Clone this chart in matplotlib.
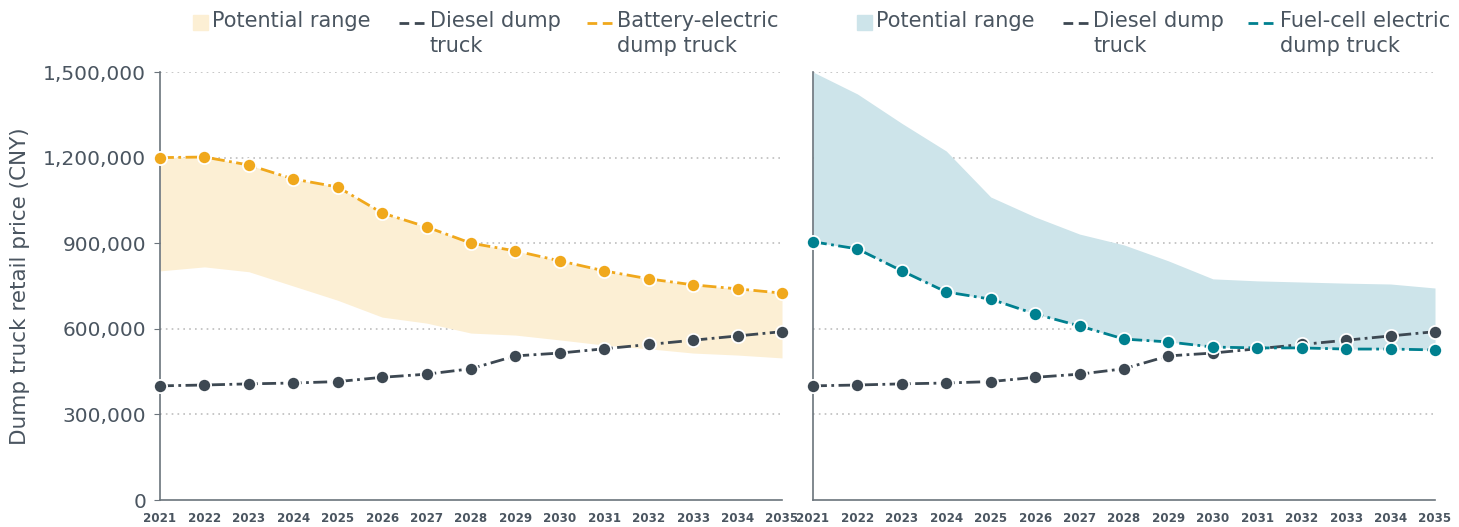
import matplotlib.pyplot as plt
from matplotlib.lines import Line2D
from matplotlib.patches import Rectangle

# Data
years = list(range(2021, 2036))
diesel = [400000, 403000, 407000, 410000, 415000, 430000, 441000, 460000,
          505000, 515000, 530000, 545000, 560000, 575000, 590000]
battery = [1200000, 1202000, 1174000, 1125000, 1097000, 1006000, 957000, 900000,
           873000, 838000, 803000, 775000, 754000, 740000, 725000]
battery_low = [803000, 817000, 800000, 750000, 700000, 641000, 620000, 585000,
               578000, 561000, 543000, 530000, 515000, 508000, 498000]
fuelcell = [905000, 880000, 803000, 729000, 704000, 652000, 610000, 564000,
            554000, 536000, 533000, 533000, 529000, 529000, 526000]
fuelcell_high = [1500000, 1423000, 1320000, 1223000, 1062000, 992000, 932000, 894000,
                 838000, 775000, 768000, 764000, 760000, 757000, 743000]
yticks = [0, 300000, 600000, 900000, 1200000, 1500000]

# Colours
TEXT = '#4a5560'
DIESEL = '#3d4852'
ORANGE = '#f0a81c'
ORANGE_FILL = '#fcefd4'
TEAL = '#00808f'
TEAL_FILL = '#cde4ea'
GRID = '#bdbdbd'
DASH = (0, (5, 1.6, 1, 1.6))

plt.rcParams['font.family'] = ['DejaVu Sans']

fig = plt.figure(figsize=(14.59, 5.27), dpi=100)
W, H = 1459, 527
ax1 = fig.add_axes([160 / W, 27 / H, 622 / W, 428 / H])
ax2 = fig.add_axes([813 / W, 27 / H, 622 / W, 428 / H])


def style_axis(ax, show_labels):
    ax.set_xlim(2021, 2035)
    ax.set_ylim(0, 1500000)
    ax.set_yticks(yticks)
    ax.set_xticks(years)
    ax.set_xticklabels([str(y) for y in years], fontsize=8.6, fontweight='bold', color=TEXT)
    for s in ['top', 'right']:
        ax.spines[s].set_visible(False)
    for s in ['left', 'bottom']:
        ax.spines[s].set_color('#6b747c')
        ax.spines[s].set_linewidth(1.2)
    ax.tick_params(axis='x', length=0, pad=9)
    ax.tick_params(axis='y', length=4, color='#6b747c', pad=6)
    if show_labels:
        ax.set_yticklabels([f'{v:,}' for v in yticks], fontsize=14.5, color=TEXT)
    else:
        ax.set_yticklabels([])
        ax.tick_params(axis='y', length=0)
    for v in yticks[1:]:
        ax.axhline(v, color=GRID, linestyle=(0, (1, 2.5)), linewidth=1.2, zorder=0)


# Left panel: battery-electric
ax1.fill_between(years, battery_low, battery, color=ORANGE_FILL, linewidth=0, zorder=1)
ax1.plot(years, diesel, color=DIESEL, lw=2, linestyle=DASH, marker='o', ms=9.5,
         mec='white', mew=1.3, clip_on=False, zorder=3)
ax1.plot(years, battery, color=ORANGE, lw=2, linestyle=DASH, marker='o', ms=9.5,
         mec='white', mew=1.3, clip_on=False, zorder=4)
style_axis(ax1, True)
ax1.set_ylabel('Dump truck retail price (CNY)', fontsize=15.5, color=TEXT, labelpad=9)

# Right panel: fuel-cell electric
ax2.fill_between(years, fuelcell, fuelcell_high, color=TEAL_FILL, linewidth=0, zorder=1)
ax2.plot(years, diesel, color=DIESEL, lw=2, linestyle=DASH, marker='o', ms=9.5,
         mec='white', mew=1.3, clip_on=False, zorder=3)
ax2.plot(years, fuelcell, color=TEAL, lw=2, linestyle=DASH, marker='o', ms=9.5,
         mec='white', mew=1.3, clip_on=False, zorder=4)
style_axis(ax2, False)


# Manual legends in pixel coordinates (top-left origin)
def px(x, y):
    return x / W, 1 - y / H


def legend_row(items):
    for kind, color, hx, tx, label in items:
        if kind == 'patch':
            x0, y0 = px(hx, 30)
            fig.patches.append(Rectangle((x0, y0), 15 / W, 15 / H, color=color,
                                         transform=fig.transFigure, figure=fig))
        else:
            xa, ya = px(hx, 23)
            xb, _ = px(hx + 26, 23)
            fig.add_artist(Line2D([xa, xb], [ya, ya], color=color, lw=2,
                                  linestyle=(0, (3.5, 2)), transform=fig.transFigure))
        tx0, ty0 = px(tx, 11)
        fig.text(tx0, ty0, label, fontsize=15, color=TEXT, va='top', ha='left',
                 linespacing=1.3)


legend_row([
    ('patch', ORANGE_FILL, 193, 212, 'Potential range'),
    ('line', DIESEL, 399, 430, 'Diesel dump\ntruck'),
    ('line', ORANGE, 587, 617, 'Battery-electric\ndump truck'),
])
legend_row([
    ('patch', TEAL_FILL, 857, 876, 'Potential range'),
    ('line', DIESEL, 1063, 1093, 'Diesel dump\ntruck'),
    ('line', TEAL, 1248, 1280, 'Fuel-cell electric\ndump truck'),
])

fig.savefig('out.png', dpi=100)
